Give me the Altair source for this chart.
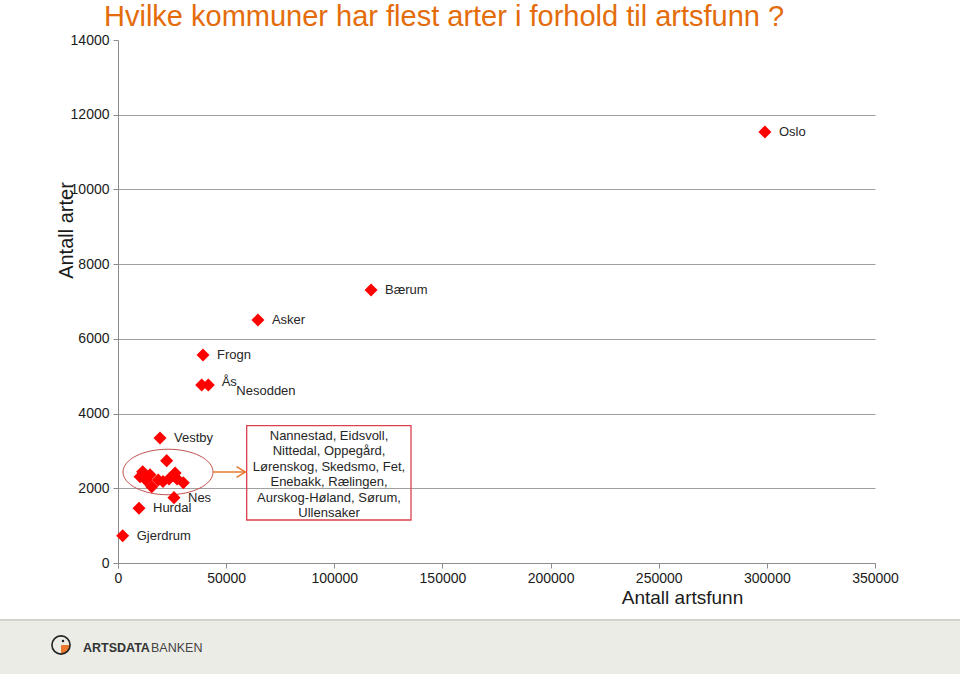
import altair as alt
import pandas as pd

FONT = "Liberation Sans"

# --- data ---
names = ["Oslo", "Bærum", "Asker", "Frogn", "Ås", "Nesodden", "Vestby", "Nes", "Hurdal", "Gjerdrum",
         "Nannestad", "Eidsvoll", "Nittedal", "Oppegård", "Lørenskog", "Skedsmo", "Fet", "Enebakk",
         "Rælingen", "Aurskog-Høland", "Sørum", "Ullensaker"]
artsfunn = [299100, 117000, 64700, 39300, 38700, 41750, 19420, 25890, 9710, 2170,
            22500, 11400, 10200, 14800, 15600, 12900, 18600, 20800, 23600, 26400, 27300, 30200]
arter = [11540, 7310, 6505, 5570, 4765, 4765, 3346, 1750, 1464, 731,
         2740, 2440, 2310, 2360, 2040, 2220, 2220, 2180, 2250, 2410, 2250, 2150]
labelled = [True] * 10 + [False] * 12

x_ticks = [0, 50000, 100000, 150000, 200000, 250000, 300000, 350000]
y_ticks = [0, 2000, 4000, 6000, 8000, 10000, 12000, 14000]

title_text = "Hvilke kommuner har flest arter i forhold til artsfunn ?"
box_lines = ["Nannestad, Eidsvoll,", "Nittedal, Oppegård,", "Lørenskog, Skedsmo, Fet,",
             "Enebakk, Rælingen,", "Aurskog-Høland, Sørum,", "Ullensaker"]

# annotation geometry in data units
ellipse_x, ellipse_y = [23120], [2436]
arrow_x, arrow_x2, arrow_y = [44060], [58950], [2436]
box_x, box_x2, box_y, box_y2 = [59500], [135470], [3676], [1151]
box_text_x, box_text_y = [97555], [3400]

df = pd.DataFrame({"name": names, "artsfunn": artsfunn, "arter": arter, "labelled": labelled})

xs = alt.Scale(domain=[0, 350000], nice=False, zero=True)
ys = alt.Scale(domain=[0, 14000], nice=False, zero=True)

X = alt.X("artsfunn:Q", scale=xs, axis=alt.Axis(
    values=x_ticks, format="d", grid=False, title="Antall artsfunn",
    titleX=564, titleY=40, titleAlign="center", titleBaseline="alphabetic",
    titleFontSize=19, titleFontWeight="normal", titleFont=FONT, titleColor="#1a1a1a",
    labelFontSize=14, labelFont=FONT, labelColor="#1a1a1a", labelPadding=3,
    labelFlush=False, labelOverlap=False, tickSize=5, tickColor="#8c8c8c",
    domainColor="#8c8c8c"))
Y = alt.Y("arter:Q", scale=ys, axis=alt.Axis(
    values=y_ticks, format="d", grid=True,
    gridColor={"condition": {"test": "datum.value >= 14000", "value": "transparent"}, "value": "#a0a0a0"},
    title="Antall arter", titleX=-46, titleY=190, titleAngle=270, titleAlign="center",
    titleBaseline="alphabetic", titleFontSize=20, titleFontWeight="normal", titleFont=FONT,
    titleColor="#1a1a1a", labelFontSize=14, labelFont=FONT, labelColor="#1a1a1a",
    labelPadding=4, labelOverlap=False, tickSize=5, tickColor="#8c8c8c", domainColor="#8c8c8c"))

base = alt.Chart(df)

points = base.mark_point(shape="diamond", filled=True, size=170, color="#ff0000", opacity=1).encode(x=X, y=Y)

lab_common = dict(align="left", baseline="middle", fontSize=13, font=FONT, color="#262626")
labels = base.transform_filter(
    "datum.labelled && datum.name != 'Ås' && datum.name != 'Nesodden'"
).mark_text(dx=14, **lab_common).encode(x="artsfunn:Q", y="arter:Q", text="name:N")
lab_as = base.transform_filter("datum.name == 'Ås'").mark_text(dx=20, dy=-3, **lab_common).encode(
    x="artsfunn:Q", y="arter:Q", text="name:N")
lab_nes = base.transform_filter("datum.name == 'Nesodden'").mark_text(dx=28, dy=6, **lab_common).encode(
    x="artsfunn:Q", y="arter:Q", text="name:N")

ellipse = alt.Chart(pd.DataFrame({"x": ellipse_x, "y": ellipse_y})).mark_point(
    shape="M-1,0A1,0.506 0 1,1 1,0A1,0.506 0 1,1 -1,0Z", size=8100, filled=False,
    stroke="#c0504d", strokeWidth=1, opacity=1).encode(x="x:Q", y="y:Q")

arrow_line = alt.Chart(pd.DataFrame({"x": arrow_x, "x2": arrow_x2, "y": arrow_y})).mark_rule(
    color="#e8792f", strokeWidth=1.5).encode(x="x:Q", x2="x2:Q", y="y:Q")
arrow_head = alt.Chart(pd.DataFrame({"x": arrow_x2, "y": arrow_y})).mark_point(
    shape="M-1.7,-1L0,0L-1.7,1", size=112, filled=False, stroke="#e8792f", strokeWidth=1.5,
    opacity=1).encode(x="x:Q", y="y:Q")

box = alt.Chart(pd.DataFrame({"x": box_x, "x2": box_x2, "y": box_y, "y2": box_y2})).mark_rect(
    fill=None, stroke="#d9414e", strokeWidth=1.3).encode(x="x:Q", x2="x2:Q", y="y:Q", y2="y2:Q")
box_txt = alt.Chart(pd.DataFrame({"x": box_text_x, "y": box_text_y, "t": ["\n".join(box_lines)]})).mark_text(
    align="center", baseline="middle", lineBreak="\n", lineHeight=15.4, fontSize=13, font=FONT,
    color="#262626").encode(x="x:Q", y="y:Q", text="t:N")

one = alt.Data(values=[{}])
title = alt.Chart(one).mark_text(
    text=title_text, align="left", baseline="alphabetic", fontSize=29, font=FONT, color="#e46c0a"
).encode(x=alt.value(-14), y=alt.value(-14))

footer = alt.Chart(one).mark_rect(fill="#ececE7", stroke=None).encode(
    x=alt.value(-118), x2=alt.value(842), y=alt.value(580), y2=alt.value(640))
footer_line = alt.Chart(one).mark_rule(color="#d2d2cd", strokeWidth=2).encode(
    x=alt.value(-118), x2=alt.value(842), y=alt.value(580))
logo_circle = alt.Chart(one).mark_point(shape="circle", size=330, filled=False, stroke="#222222",
                                         strokeWidth=1.6, opacity=1).encode(
    x=alt.value(-57), y=alt.value(605))
logo_wedge = alt.Chart(one).mark_point(shape="M0,0L1,0A1,1 0 0,1 0,1Z", size=320, filled=True,
                                        fill="#e8792f", opacity=1, stroke=None).encode(
    x=alt.value(-57), y=alt.value(605))
logo_dot = alt.Chart(one).mark_point(shape="circle", size=6, filled=True, fill="#222222",
                                      opacity=1).encode(x=alt.value(-55), y=alt.value(601))
logo_t1 = alt.Chart(one).mark_text(text="ARTSDATA", align="left", baseline="middle", fontSize=12.5,
                                    fontWeight="bold", font=FONT, color="#333333").encode(
    x=alt.value(-35), y=alt.value(608))
logo_t2 = alt.Chart(one).mark_text(text="BANKEN", align="left", baseline="middle", fontSize=12.5,
                                    font=FONT, color="#444444").encode(
    x=alt.value(33), y=alt.value(608))

chart = alt.layer(
    footer, footer_line, logo_wedge, logo_circle, logo_dot, logo_t1, logo_t2,
    box, box_txt, ellipse, arrow_line, arrow_head, points, labels, lab_as, lab_nes, title
).properties(
    width=757, height=523,
    autosize=alt.AutoSizeParams(type="none"),
    padding={"left": 118, "top": 40, "right": 85, "bottom": 111},
    background="white"
).configure_view(stroke=None)

chart.save("out.html", embed_options={"renderer": "svg", "actions": False})
